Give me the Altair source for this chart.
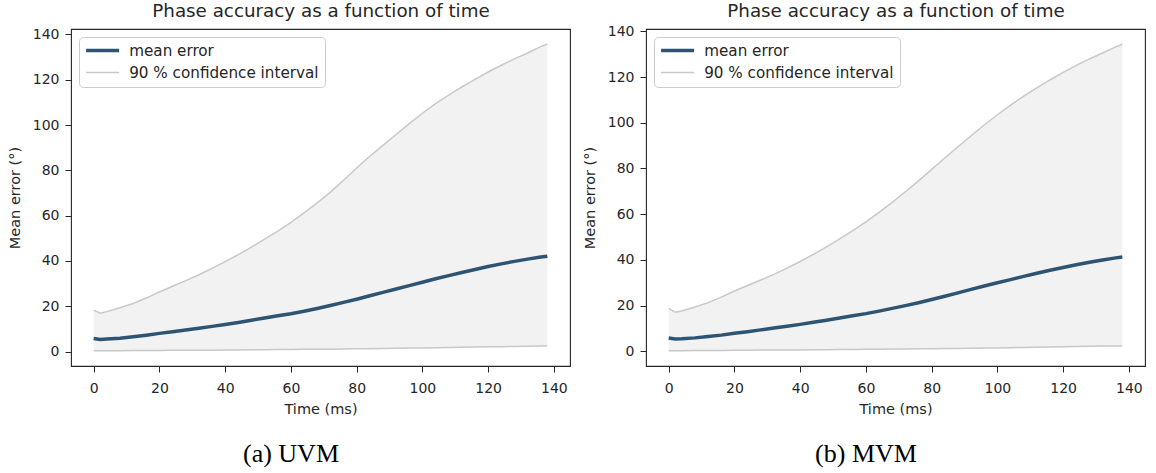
import altair as alt
import pandas as pd

times = [0, 2, 4, 8, 12, 16, 20, 24, 28, 32, 36, 40, 44, 48, 52, 56, 60, 64, 68,
         72, 76, 80, 84, 88, 92, 96, 100, 104, 108, 112, 116, 120, 124, 128, 132, 136, 138]

uvm_mean = [5.7, 5.3, 5.5, 5.9, 6.5, 7.2, 8.0, 8.7, 9.5, 10.3, 11.1, 11.9, 12.8, 13.8, 14.8,
            15.8, 16.7, 17.8, 19.0, 20.3, 21.7, 23.1, 24.6, 26.1, 27.6, 29.1, 30.6, 32.1,
            33.5, 34.9, 36.2, 37.5, 38.7, 39.8, 40.8, 41.7, 42.1]
uvm_upper = [18.3, 16.9, 17.6, 19.3, 21.2, 23.6, 26.3, 28.8, 31.3, 33.9, 36.7, 39.7, 42.8,
             46.1, 49.6, 53.2, 57.0, 61.2, 65.6, 70.4, 75.6, 81.0, 86.2, 91.0, 95.8, 100.6,
             105.2, 109.4, 113.2, 116.8, 120.2, 123.4, 126.4, 129.2, 131.8, 134.6, 135.8]
uvm_lower = [0.3, 0.3, 0.3, 0.35, 0.4, 0.4, 0.45, 0.5, 0.55, 0.6, 0.6, 0.65, 0.7, 0.75, 0.8,
             0.85, 0.9, 0.95, 1.0, 1.05, 1.1, 1.2, 1.25, 1.3, 1.4, 1.5, 1.55, 1.65, 1.75,
             1.85, 1.95, 2.05, 2.15, 2.25, 2.35, 2.45, 2.5]

mvm_mean = [5.8, 5.4, 5.5, 5.9, 6.5, 7.1, 7.9, 8.6, 9.4, 10.2, 11.0, 11.8, 12.7, 13.6, 14.6,
            15.6, 16.5, 17.6, 18.8, 20.0, 21.3, 22.7, 24.1, 25.6, 27.1, 28.6, 30.0, 31.4,
            32.8, 34.2, 35.5, 36.7, 37.9, 39.0, 40.0, 40.9, 41.3]
mvm_upper = [18.8, 17.1, 17.7, 19.4, 21.3, 23.7, 26.4, 28.8, 31.2, 33.7, 36.4, 39.3, 42.4,
             45.7, 49.2, 52.8, 56.6, 60.8, 65.2, 69.8, 74.6, 79.6, 84.6, 89.5, 94.3, 99.0,
             103.5, 107.7, 111.6, 115.2, 118.7, 122.0, 125.1, 127.9, 130.5, 133.2, 134.3]
mvm_lower = [0.3, 0.3, 0.3, 0.35, 0.4, 0.4, 0.45, 0.5, 0.55, 0.6, 0.6, 0.65, 0.7, 0.75, 0.8,
             0.85, 0.9, 0.95, 1.0, 1.05, 1.1, 1.15, 1.2, 1.3, 1.35, 1.45, 1.5, 1.6, 1.7,
             1.8, 1.9, 2.0, 2.1, 2.2, 2.3, 2.4, 2.4]

captions = ["(a) UVM", "(b) MVM"]
title_text = "Phase accuracy as a function of time"
series_names = ["mean error", "90 % confidence interval"]
x_ticks = [0, 20, 40, 60, 80, 100, 120, 140]
y_ticks = [0, 20, 40, 60, 80, 100, 120, 140]

FONT = "DejaVu Sans"
TXT = "#262626"

color_scale = alt.Scale(domain=series_names, range=["#2d5472", "#c8c8c8"])
width_scale = alt.Scale(domain=series_names, range=[3.5, 1.5])

legend = alt.Legend(
    title=None, orient="top-left", offset=8,
    symbolType="M-3,0L3,0", symbolSize=121, symbolOffset=10,
    labelFontSize=15.2, labelFont=FONT, labelColor=TXT, labelOffset=19, labelLimit=0,
    fillColor="rgba(255,255,255,0.8)", strokeColor="#cccccc", cornerRadius=4,
    padding=6, rowPadding=6,
)


def panel(mean, lower, upper, caption, ydom):
    area_df = pd.DataFrame({"t": times, "lo": lower, "hi": upper})
    ci_df = pd.concat([
        pd.DataFrame({"t": times, "v": lower, "part": "lower", "s": series_names[1]}),
        pd.DataFrame({"t": times, "v": upper, "part": "upper", "s": series_names[1]}),
    ])
    mean_df = pd.DataFrame({"t": times, "v": mean, "part": "mean", "s": series_names[0]})

    xenc = alt.X("t:Q", scale=alt.Scale(domain=[-6.9, 144.9], nice=False, zero=False),
                 axis=alt.Axis(title="Time (ms)", values=x_ticks, grid=False, domain=False,
                               tickSize=6, tickColor=TXT, labelPadding=9,
                               labelFontSize=14, labelFont=FONT, labelColor=TXT,
                               titleFontSize=14.5, titleFont=FONT, titleColor=TXT,
                               titleFontWeight="normal", titlePadding=7))
    yscale = alt.Scale(domain=ydom, nice=False, zero=False)
    yaxis = alt.Axis(title="Mean error (°)", values=y_ticks, grid=False, domain=False,
                     tickSize=6, tickColor=TXT, labelPadding=6,
                     labelFontSize=14, labelFont=FONT, labelColor=TXT,
                     titleFontSize=14.5, titleFont=FONT, titleColor=TXT,
                     titleFontWeight="normal", titlePadding=10)

    area = alt.Chart(area_df).mark_area(color="#f2f2f2", opacity=1).encode(
        x=xenc,
        y=alt.Y("lo:Q", scale=yscale, axis=yaxis),
        y2="hi:Q",
    )
    ci = alt.Chart(ci_df).mark_line().encode(
        x="t:Q",
        y=alt.Y("v:Q", scale=yscale),
        color=alt.Color("s:N", scale=color_scale, legend=legend),
        strokeWidth=alt.StrokeWidth("s:N", scale=width_scale, legend=legend),
        detail="part:N",
    )
    mline = alt.Chart(mean_df).mark_line().encode(
        x="t:Q",
        y=alt.Y("v:Q", scale=yscale),
        color=alt.Color("s:N", scale=color_scale, legend=legend),
        strokeWidth=alt.StrokeWidth("s:N", scale=width_scale, legend=legend),
        detail="part:N",
    )
    ttl = alt.Chart(pd.DataFrame({"c": [title_text]})).mark_text(
        font=FONT, fontSize=18.3, color=TXT, baseline="middle", align="center"
    ).encode(x=alt.value(250), y=alt.value(-17), text="c:N")
    cap = alt.Chart(pd.DataFrame({"c": [caption]})).mark_text(
        font="Liberation Serif", fontSize=26, color="black", baseline="middle", align="center"
    ).encode(x=alt.value(220), y=alt.value(425), text="c:N")

    return alt.layer(area, ci, mline, ttl, cap).properties(width=499, height=337)


left = panel(uvm_mean, uvm_lower, uvm_upper, captions[0], [-6.4, 142.4])
right = panel(mvm_mean, mvm_lower, mvm_upper, captions[1], [-6.4, 141.0])

chart = alt.hconcat(left, right, spacing=76, bounds="flush").resolve_scale(
    color="independent", strokeWidth="independent"
).resolve_legend(
    color="independent", strokeWidth="independent"
).properties(
    padding={"left": 6, "top": 1, "right": 4, "bottom": 0},
    background="white",
).configure_view(stroke="#262626", strokeWidth=1.1)

chart.save("out.html", embed_options={"renderer": "svg", "actions": False})
